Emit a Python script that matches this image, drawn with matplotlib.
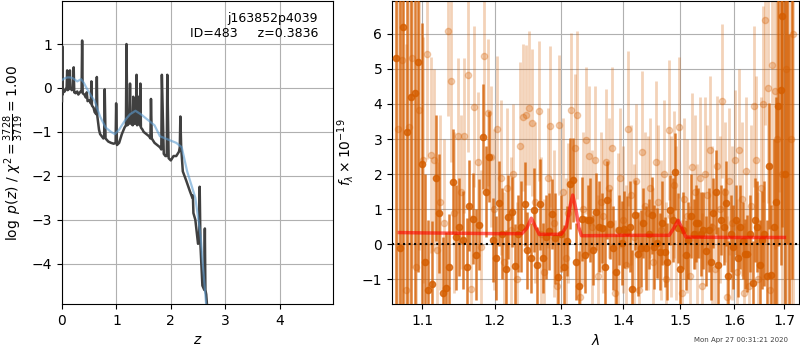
import numpy as np
import matplotlib
matplotlib.use("Agg")
import matplotlib.pyplot as plt
from matplotlib.ticker import NullLocator

# ---------------- p(z) panel data ----------------
z_pz = [0.000, 0.005, 0.010, 0.030, 0.050, 0.070, 0.085, 0.095, 0.105, 0.130,
        0.145, 0.155, 0.180, 0.200, 0.215, 0.225, 0.250, 0.280, 0.300, 0.330,
        0.360, 0.370, 0.380, 0.410, 0.440, 0.455, 0.470, 0.500, 0.530, 0.540,
        0.550, 0.580, 0.600, 0.630, 0.640, 0.650, 0.680, 0.700, 0.730, 0.760,
        0.775, 0.785, 0.800, 0.850, 0.900, 0.950, 0.985, 0.995, 1.010, 1.050,
        1.100, 1.150, 1.175, 1.185, 1.200, 1.240, 1.250, 1.260, 1.300, 1.310,
        1.320, 1.360, 1.370, 1.380, 1.400, 1.430, 1.440, 1.450, 1.480, 1.500,
        1.550, 1.600, 1.625, 1.635, 1.650, 1.700, 1.750, 1.800, 1.825, 1.835,
        1.870, 1.900, 1.925, 1.935, 1.960, 2.000, 2.050, 2.100, 2.150, 2.165,
        2.175, 2.190, 2.220, 2.280, 2.350, 2.395, 2.405, 2.415, 2.450, 2.500,
        2.520, 2.530, 2.545, 2.580, 2.615, 2.625, 2.635, 2.650, 2.680]
logp = [-0.30, 0.95, -0.15, -0.05, -0.08, -0.02, 0.00, 0.40, -0.05, -0.02,
        0.40, 0.00, -0.05, -0.02, 0.47, -0.10, -0.12, -0.08, -0.15, -0.10,
        -0.05, 1.08, -0.12, -0.15, -0.22, -0.10, -0.30, -0.28, -0.35, 0.15,
        -0.40, -0.45, -0.55, -0.60, 0.25, -0.65, -0.95, -1.05, -1.10, -1.15,
        -1.10, -0.03, -1.15, -1.22, -1.25, -1.27, -1.25, -0.35, -1.30, -1.25,
        -1.05, -0.90, -0.85, 1.00, -0.85, -0.80, 0.10, -0.80, -0.85, -0.20,
        -0.82, -0.80, 0.30, -0.85, -0.20, -0.85, 0.10, -0.90, -0.95, -1.00,
        -1.05, -1.10, -1.15, -0.25, -1.15, -1.25, -1.30, -1.35, -1.40, 0.30,
        -1.50, -1.55, -1.55, 0.30, -1.60, -1.65, -1.55, -1.55, -1.45, -1.35,
        -0.65, -1.35, -1.90, -2.10, -2.35, -2.50, -2.45, -2.85, -3.00, -3.55,
        -3.50, -2.25, -3.60, -4.50, -4.60, -3.20, -4.60, -4.70, -5.20]

z_smooth = [0.00, 0.05, 0.10, 0.15, 0.20, 0.28, 0.35, 0.40, 0.45, 0.52,
            0.60, 0.70, 0.80, 0.90, 0.97, 1.05, 1.10, 1.18, 1.25, 1.35,
            1.45, 1.50, 1.60, 1.70, 1.80, 1.90, 2.00, 2.10, 2.20, 2.30,
            2.40, 2.45, 2.55, 2.60, 2.66]
p_smooth = [0.18, 0.22, 0.24, 0.24, 0.22, 0.15, 0.20, 0.12, 0.00, -0.15,
            -0.30, -0.65, -0.90, -1.00, -1.05, -0.95, -0.85, -0.70, -0.60, -0.52,
            -0.60, -0.65, -0.75, -0.85, -1.10, -1.15, -1.20, -1.25, -1.35, -1.90,
            -2.30, -2.50, -3.40, -4.20, -5.10]

obj_name = 'j163852p4039'
obj_info = 'ID=483     z=0.3836'

# ---------------- spectrum panel data ----------------
lam_a = [1.066, 1.071, 1.075, 1.080, 1.085, 1.090, 1.094, 1.099, 1.104, 1.108,
         1.113, 1.118, 1.122, 1.127, 1.132, 1.136, 1.141, 1.146, 1.150, 1.155,
         1.160, 1.164, 1.169, 1.174, 1.178, 1.183, 1.188, 1.192, 1.197, 1.202,
         1.206, 1.211, 1.216, 1.220, 1.225, 1.230, 1.234, 1.239, 1.244, 1.248,
         1.253, 1.258, 1.262, 1.267, 1.272, 1.276, 1.281, 1.286, 1.290, 1.295,
         1.300, 1.304, 1.309, 1.314, 1.318, 1.323, 1.328, 1.332, 1.337, 1.342,
         1.346, 1.351, 1.356, 1.360, 1.365, 1.370, 1.374, 1.379, 1.384, 1.388,
         1.393, 1.398, 1.402, 1.407, 1.412, 1.416, 1.421, 1.426, 1.430, 1.435,
         1.440, 1.444, 1.449, 1.454, 1.458, 1.463, 1.468, 1.472, 1.477, 1.482,
         1.486, 1.491, 1.496, 1.500, 1.505, 1.510, 1.514, 1.519, 1.524, 1.528,
         1.533, 1.538, 1.542, 1.547, 1.552, 1.556, 1.561, 1.566, 1.570, 1.575,
         1.580, 1.584, 1.589, 1.594, 1.598, 1.603, 1.608, 1.612, 1.617, 1.622,
         1.626, 1.631, 1.636, 1.640, 1.645, 1.650, 1.654, 1.659, 1.664, 1.668,
         1.673, 1.678, 1.682, 1.687, 1.692, 1.696, 1.701, 1.706, 1.710, 1.715]
flux_a = [5.30, -0.10, 6.20, 3.20, 4.20, 4.30, 5.20, 2.30, -0.50, -1.30,
          -1.15, 1.90, 0.88, -1.40, -1.25, -0.65, 1.78, 0.20, 0.50, 0.13,
          -0.65, 1.10, 0.73, -0.30, 0.55, 3.07, 1.50, 2.50, 0.13, -0.40,
          1.16, 0.30, -0.70, 0.78, 0.92, -0.63, 0.30, 0.50, 1.14, -0.17,
          -0.40, 0.97, -0.60, 1.14, -0.40, 0.20, 0.37, 0.87, 0.17, -0.93,
          0.30, -0.65, 0.10, 1.73, 1.83, -0.50, -1.20, 0.73, -0.30, 0.69,
          0.69, -0.17, 0.92, 0.50, 0.46, -0.65, 1.26, 0.57, -0.10, -0.80,
          0.40, 0.02, 0.42, 0.36, 0.50, -1.27, 0.83, -0.27, -0.12, 0.60,
          -0.12, 0.30, 0.83, -0.08, 0.02, -0.22, 0.60, -0.22, -0.50, 0.97,
          0.69, 2.07, 0.46, -0.70, 0.40, -0.30, 0.11, 0.80, 0.30, 0.59,
          0.59, 0.30, 0.40, -0.20, 0.40, -0.50, 0.90, 1.49, -0.60, 0.69,
          0.50, 1.16, -0.90, 0.30, -0.08, 0.69, -0.40, 0.50, 0.10, -0.27,
          -0.27, 0.30, -1.10, 0.69, 0.50, -0.60, 0.11, 0.30, -0.90, 2.23,
          -0.88, 0.50, 1.21, 3.94, 4.40, 6.50, 2.00, 8.00, -3.00, 9.00]
err_a = [9.0, 9.0, 8.0, 8.0, 7.0, 7.0, 6.0, 4.0, 2.5, 2.0,
         1.8, 1.8, 1.7, 1.6, 1.6, 1.5, 1.5, 1.5, 1.4, 1.4,
         1.4, 1.3, 1.3, 1.3, 1.3, 1.5, 1.3, 1.3, 1.2, 1.2,
         1.2, 1.3, 1.1, 1.2, 1.0, 1.2, 1.1, 1.3, 1.2, 1.1,
         1.0, 1.2, 1.1, 1.3, 1.0, 1.2, 1.1, 1.0, 1.3, 1.2,
         1.1, 1.2, 1.0, 1.3, 1.2, 1.1, 1.0, 1.2, 1.1, 1.0,
         1.2, 1.0, 1.1, 1.3, 1.0, 1.2, 1.1, 1.0, 1.2, 1.1,
         1.0, 1.2, 1.1, 1.0, 1.3, 1.1, 1.0, 1.2, 1.1, 1.0,
         1.2, 1.0, 1.1, 1.2, 1.0, 1.1, 1.2, 1.0, 1.1, 1.0,
         1.2, 1.1, 1.0, 1.2, 1.1, 1.0, 1.1, 1.2, 1.0, 1.1,
         1.0, 1.2, 1.1, 1.0, 1.2, 1.1, 1.0, 1.2, 1.1, 1.0,
         1.1, 1.2, 1.0, 1.1, 1.2, 1.0, 1.1, 1.2, 1.1, 1.0,
         1.1, 1.1, 1.2, 1.2, 1.3, 1.3, 1.4, 1.5, 1.6, 1.8,
         2.0, 2.5, 3.0, 4.0, 5.0, 6.0, 7.0, 8.0, 9.0, 10.0]

lam_b = [1.068, 1.073, 1.078, 1.082, 1.087, 1.092, 1.096, 1.101, 1.106, 1.111,
         1.115, 1.120, 1.124, 1.129, 1.134, 1.138, 1.143, 1.148, 1.152, 1.157,
         1.162, 1.166, 1.171, 1.176, 1.181, 1.185, 1.190, 1.195, 1.199, 1.204,
         1.209, 1.213, 1.218, 1.223, 1.227, 1.232, 1.237, 1.241, 1.246, 1.251,
         1.255, 1.260, 1.265, 1.269, 1.274, 1.279, 1.283, 1.288, 1.293, 1.297,
         1.302, 1.307, 1.311, 1.316, 1.321, 1.325, 1.330, 1.335, 1.339, 1.344,
         1.349, 1.353, 1.358, 1.363, 1.367, 1.372, 1.377, 1.381, 1.386, 1.391,
         1.395, 1.400, 1.405, 1.409, 1.414, 1.419, 1.423, 1.428, 1.433, 1.437,
         1.442, 1.447, 1.451, 1.456, 1.461, 1.465, 1.470, 1.475, 1.479, 1.484,
         1.489, 1.493, 1.498, 1.503, 1.507, 1.512, 1.517, 1.521, 1.526, 1.531,
         1.535, 1.540, 1.545, 1.549, 1.554, 1.559, 1.563, 1.568, 1.573, 1.577,
         1.582, 1.587, 1.591, 1.596, 1.601, 1.605, 1.610, 1.615, 1.619, 1.624,
         1.629, 1.633, 1.638, 1.643, 1.647, 1.652, 1.657, 1.661, 1.666, 1.671,
         1.675, 1.680, 1.685, 1.689, 1.694, 1.699, 1.703, 1.708, 1.713, 1.717]
flux_b = [3.30, 5.25, -1.30, 3.35, 5.32, -0.65, 3.83, 2.40, 5.43, 2.54,
          2.40, -0.17, 1.20, 0.60, 6.07, 4.65, 0.90, 3.10, 1.50, 3.10,
          4.84, -1.27, 3.92, 2.35, -0.07, 5.37, 3.75, 2.50, 1.00, 3.28,
          1.90, -0.50, 1.60, 0.40, 2.00, -1.00, 2.80, 3.62, 3.69, 3.88,
          3.47, 1.20, 3.79, 0.30, -0.80, 1.90, 3.36, 0.60, -1.20, 3.41,
          1.50, -0.40, 0.90, 3.84, 2.75, 3.69, -1.50, 1.00, 2.97, 2.52,
          0.50, 2.40, -0.90, 1.20, 0.80, 2.33, 1.60, 2.75, -1.40, 0.40,
          1.90, 0.70, -0.60, 3.30, 1.40, 0.20, 1.80, -1.30, 2.64, 1.10,
          0.90, 1.60, -0.50, 2.35, 1.20, 0.40, 2.00, -1.00, 3.25, 0.80,
          1.70, 0.60, 3.33, -1.40, 1.30, 0.80, -0.90, 2.20, 1.50, 0.30,
          1.90, -1.20, 2.00, 1.40, 2.69, 0.50, -0.70, 2.23, 1.00, 4.08,
          1.50, -1.50, 1.80, 0.60, 2.40, -0.80, 2.70, 1.30, -1.40, 2.10,
          -1.20, 1.10, 3.94, 2.40, -1.00, 1.60, 4.00, 6.40, 4.46, -1.30,
          5.10, 4.36, 3.00, 7.50, 2.00, 8.00, 5.00, 9.00, 3.00, 6.00]
err_b = [8.0, 8.0, 7.0, 7.0, 6.0, 5.0, 4.0, 3.5, 3.0, 2.8,
         2.6, 2.5, 2.5, 2.4, 2.4, 2.3, 2.3, 2.2, 2.2, 2.2,
         2.2, 2.1, 2.3, 2.0, 2.2, 2.4, 2.1, 2.0, 2.3, 2.1,
         2.2, 2.0, 2.3, 2.1, 2.0, 2.2, 2.4, 2.1, 2.0, 2.2,
         2.1, 2.3, 2.0, 2.2, 2.1, 2.0, 2.3, 2.1, 2.2, 2.0,
         2.1, 2.3, 2.0, 2.2, 2.1, 2.4, 2.0, 2.2, 2.1, 2.0,
         2.2, 2.1, 2.3, 2.0, 2.2, 2.1, 2.0, 2.3, 2.1, 2.2,
         2.0, 2.1, 2.3, 2.2, 2.0, 2.1, 2.2, 2.0, 2.3, 2.1,
         2.2, 2.0, 2.1, 2.3, 2.2, 2.0, 2.1, 2.2, 2.0, 2.3,
         2.1, 2.2, 2.0, 2.1, 2.3, 2.2, 2.0, 2.1, 2.2, 2.0,
         2.3, 2.1, 2.2, 2.0, 2.1, 2.3, 2.2, 2.0, 2.1, 2.2,
         2.0, 2.3, 2.1, 2.2, 2.0, 2.1, 2.3, 2.2, 2.0, 2.1,
         2.2, 2.3, 2.3, 2.4, 2.5, 2.6, 2.8, 3.0, 3.3, 3.6,
         4.0, 4.5, 5.0, 6.0, 7.0, 8.0, 9.0, 10.0, 10.0, 10.0]

lam_model = [1.070, 1.100, 1.150, 1.200, 1.240, 1.247, 1.254, 1.260, 1.266, 1.300,
             1.308, 1.314, 1.318, 1.323, 1.328, 1.332, 1.400, 1.480, 1.488, 1.496,
             1.503, 1.510, 1.600, 1.700]
flux_model = [0.33, 0.32, 0.31, 0.30, 0.30, 0.45, 0.74, 0.50, 0.28, 0.28,
              0.50, 1.10, 1.40, 1.00, 0.45, 0.24, 0.25, 0.25, 0.45, 0.68,
              0.45, 0.20, 0.19, 0.19]

lam_ticks = [1.1, 1.2, 1.3, 1.4, 1.5, 1.6, 1.7]
timestamp = 'Mon Apr 27 00:31:21 2020'

# ---------------- figure ----------------
fig = plt.figure(figsize=(8, 3.5), dpi=100)
ax1 = fig.add_axes([0.0775, 0.1314, 0.33875, 0.8657])
ax2 = fig.add_axes([0.49, 0.1314, 0.50875, 0.8657])

ax1.plot(z_pz, logp, color='0.25', lw=1.8, zorder=3)
ax1.plot(z_smooth, p_smooth, color='#5b9bd0', alpha=0.6, lw=1.6, zorder=4)
ax1.set_xlim(0, 4.98)
ax1.set_ylim(-4.92, 1.98)
ax1.set_xticks([0, 1, 2, 3, 4])
ax1.set_yticks([-4, -3, -2, -1, 0, 1])
ax1.grid(True)
ax1.set_axisbelow(True)
ax1.set_xlabel(r'$z$')
ax1.set_ylabel(r'$\log\ p(z)$ / $\chi^2=\frac{3728}{3719}=1.00$')
ax1.text(0.945, 0.965, obj_name + '\n' + obj_info, transform=ax1.transAxes,
         ha='right', va='top', fontsize=9)

col = '#d55e00'
ax2.errorbar(lam_b, flux_b, yerr=err_b, marker='o', linestyle='none',
             color=col, alpha=0.28, ms=4.5, elinewidth=2.0, capsize=0, zorder=2)
ax2.errorbar(lam_a, flux_a, yerr=err_a, marker='o', linestyle='none',
             color=col, alpha=0.8, ms=4.5, elinewidth=1.8, capsize=0, zorder=3)
ax2.plot(lam_model, flux_model, color='r', alpha=0.6, lw=2.5, zorder=5)
ax2.axhline(0, color='k', linestyle=':', lw=1.5, zorder=6)

ax2.set_xscale('log')
ax2.set_xticks(lam_ticks)
ax2.set_xticklabels(['%.1f' % t for t in lam_ticks])
ax2.xaxis.set_minor_locator(NullLocator())
ax2.set_xlim(1.0606, 1.730)
ax2.set_ylim(-1.71, 6.94)
ax2.set_yticks([-1, 0, 1, 2, 3, 4, 5, 6])
ax2.grid(True)
ax2.set_axisbelow(True)
ax2.set_xlabel(r'$\lambda$')
ax2.set_ylabel(r'$f_\lambda \times 10^{-19}$')

fig.text(0.985, 0.028, timestamp, ha='right', va='center', fontsize=5, color='0.25')

fig.savefig('out.png', dpi=100)
